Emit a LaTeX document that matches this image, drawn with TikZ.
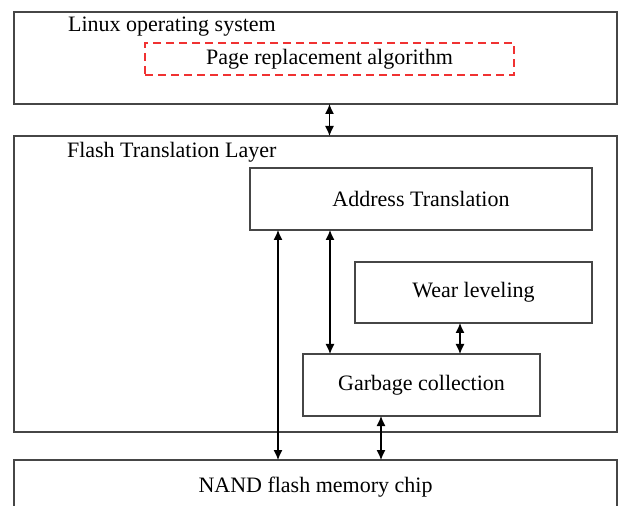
\documentclass[tikz,border=0pt]{standalone}
\usepackage{fontspec}
\setmainfont{Liberation Serif}
\usetikzlibrary{arrows.meta}

\definecolor{boxgray}{RGB}{70,70,70}
\definecolor{dashred}{RGB}{240,50,50}

\begin{document}
\begin{tikzpicture}[x=0.5pt,y=-0.5pt,font=\fontsize{11}{13}\selectfont,
        block/.style={draw=boxgray,line width=0.8pt,inner sep=0pt,outer sep=0pt},
        dashbox/.style={draw=dashred,dashed,line width=1pt,inner sep=0pt,
            outer sep=0pt,dash pattern=on 4pt off 2.5pt},
        conn/.style={{Latex[length=5pt,width=4.5pt]}-{Latex[length=5pt,width=4.5pt]},
            line width=0.6pt}]
    \useasboundingbox (0,0) rectangle (619,506);

    % operating system layer
    \node[block,minimum width=301.5pt,minimum height=46pt] (linux) at (315.5,58) {};
    \node[anchor=west] (linuxlbl) at (61,27) {Linux operating system};
    \node[dashbox,minimum width=184.5pt,minimum height=16pt] (page) at (329.5,59)
        {Page replacement algorithm};

    % FTL and its parts
    \node[block,minimum width=301.5pt,minimum height=148pt] (ftl) at (315.5,284) {};
    \node[anchor=west] (ftllbl) at (60,152) {Flash Translation Layer};
    \node[block,minimum width=171pt,minimum height=31pt] (at) at (421,199) {Address Translation};
    \node[block,minimum width=118.5pt,minimum height=30.5pt] (wl) at (473.5,292.5) {Wear leveling};
    \node[block,minimum width=118.5pt,minimum height=31pt] (gc) at (421.5,385) {Garbage collection};

    % the chip
    \node[block,minimum width=301.5pt,minimum height=27pt] (nand) at (315.5,487) {NAND flash memory chip};

    \coordinate (a0) at (page.south |- linux.south);
    \coordinate (a1) at ([xshift=14pt]at.south west);
    \coordinate (a2) at ([xshift=40pt]at.south west);
    \coordinate (a3) at ([xshift=52.5pt]wl.south west);
    \coordinate (a4) at ([xshift=39pt]gc.south west);

    \draw[conn] (a0) -- (a0 |- ftl.north);
    \draw[conn] (a1) -- (a1 |- nand.north);
    \draw[conn] (a2) -- (a2 |- gc.north);
    \draw[conn] (a3) -- (a3 |- gc.north);
    \draw[conn] (a4) -- (a4 |- nand.north);
\end{tikzpicture}
\end{document}
